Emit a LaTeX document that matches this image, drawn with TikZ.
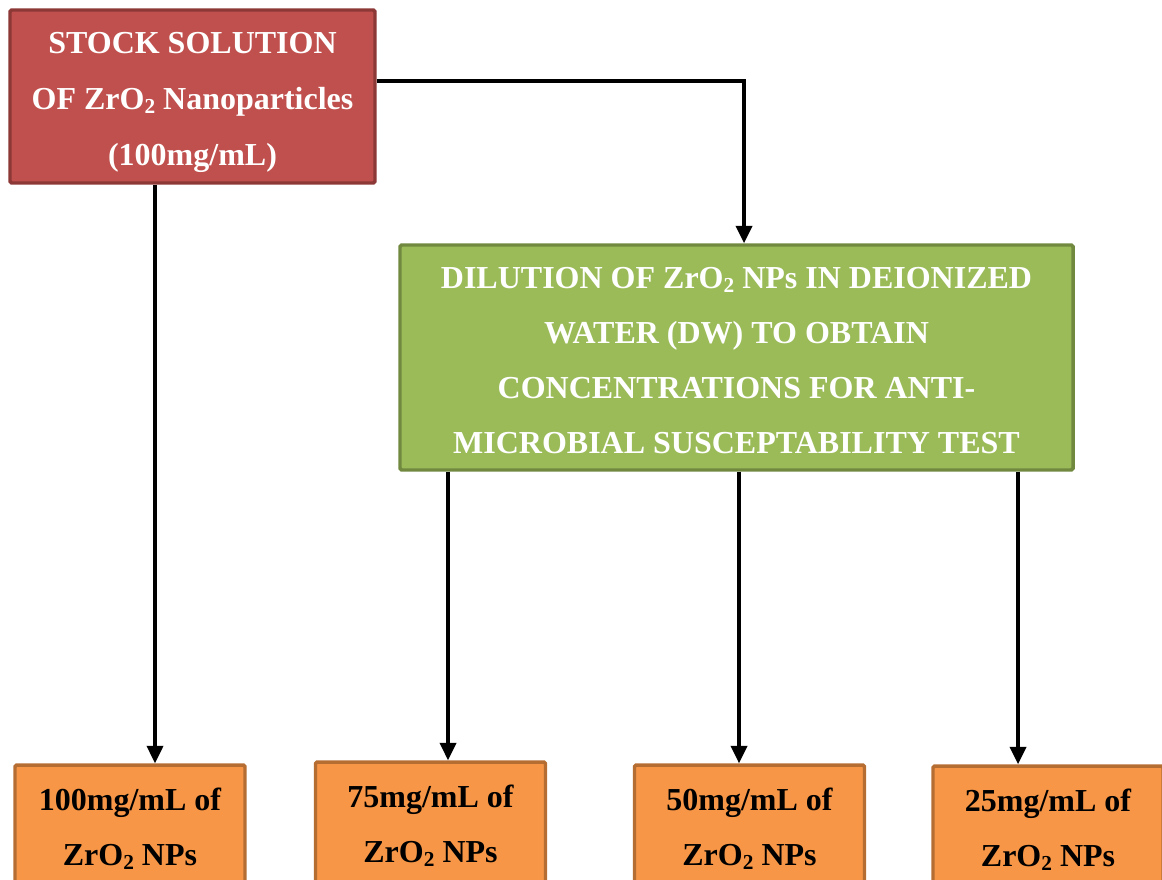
\documentclass[tikz,border=0pt]{standalone}
\usepackage{fontspec}
\setmainfont{Liberation Serif}
\usetikzlibrary{arrows.meta}

\definecolor{stockfill}{HTML}{C0504D}
\definecolor{stockline}{HTML}{8C3836}
\definecolor{dilfill}{HTML}{9BBB59}
\definecolor{dilline}{HTML}{71893F}
\definecolor{concfill}{HTML}{F79646}
\definecolor{concline}{HTML}{B66D31}

\tikzset{
  box/.style={draw, line width=2.6pt, rounded corners=1.2pt, inner sep=0pt},
  label text/.style={align=center, inner sep=0pt},
  stockbox/.style={box, fill=stockfill, draw=stockline,
    minimum width=273.75pt, minimum height=129.75pt},
  dilbox/.style={box, fill=dilfill, draw=dilline,
    minimum width=504.75pt, minimum height=168.75pt},
  concbox/.style={box, fill=concfill, draw=concline,
    minimum width=172.5pt, minimum height=90.75pt},
  stocktext/.style={label text, text=white, font={\fontsize{24}{42}\selectfont\bfseries}},
  diltext/.style={label text, text=white, font={\fontsize{24}{41.25}\selectfont\bfseries}},
  conctext/.style={label text, text=black, font={\fontsize{24}{41.25}\selectfont\bfseries}},
  flow/.style={line width=2.6pt, -{Triangle[length=13pt,width=12pt]}}
}

\newcommand{\zro}{ZrO\raisebox{-0.12em}{\fontsize{16}{16}\selectfont 2}}

\begin{document}
\begin{tikzpicture}[x=0.75pt,y=-0.75pt]
  \useasboundingbox (0,0) rectangle (1162,879);
  \clip (0,0) rectangle (1162,879);

  % source and dilution step
  \node[stockbox] (stock) at (192.5,96.5) {};
  \node[stocktext] (stocklbl) at ([yshift=-4.2pt]stock.center)
    {STOCK SOLUTION\\OF \zro{} Nanoparticles\\(100mg/mL)};
  \node[dilbox] (dil) at (736.5,357.5) {};
  \node[diltext] (dillbl) at ([yshift=-2.3pt]dil.center)
    {DILUTION OF \zro{} NPs IN DEIONIZED\\WATER (DW) TO OBTAIN\\CONCENTRATIONS FOR ANTI-\\MICROBIAL SUSCEPTABILITY TEST};

  % final concentrations
  \node[concbox] (c100) at (130,825.5)  {};
  \node[concbox] (c75)  at (430.5,822.5) {};
  \node[concbox] (c50)  at (749.5,825.5) {};
  \node[concbox] (c25)  at (1048,826.5)  {};
  \node[conctext] (l100) at ([yshift=-2.3pt]c100.center) {100mg/mL of\\\zro{} NPs};
  \node[conctext] (l75)  at ([yshift=-2.3pt]c75.center)  {75mg/mL of\\\zro{} NPs};
  \node[conctext] (l50)  at ([yshift=-2.3pt]c50.center)  {50mg/mL of\\\zro{} NPs};
  \node[conctext] (l25)  at ([yshift=-2.3pt]c25.center)  {25mg/mL of\\\zro{} NPs};

  % connector drop points
  \coordinate (bend) at (744,81);
  \coordinate (x100) at (155,0);
  \coordinate (x75)  at (448,0);
  \coordinate (x50)  at (739,0);
  \coordinate (x25)  at (1018,0);

  \draw[flow] (bend -| stock.east) -- (bend) -- (bend |- dil.north);
  \draw[flow] (x100 |- stock.south) -- (x100 |- c100.north);
  \draw[flow] (x75 |- dil.south) -- (x75 |- c75.north);
  \draw[flow] (x50 |- dil.south) -- (x50 |- c50.north);
  \draw[flow] (x25 |- dil.south) -- (x25 |- c25.north);
\end{tikzpicture}
\end{document}
